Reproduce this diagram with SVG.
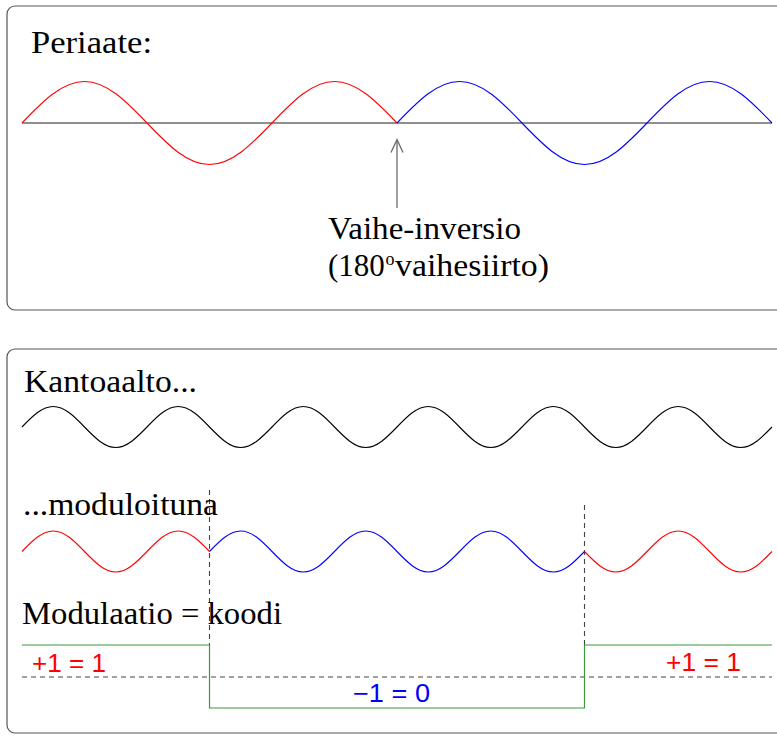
<svg xmlns="http://www.w3.org/2000/svg" width="777" height="736" viewBox="0 0 777 736">
<style>
.box{fill:none;stroke:#555;stroke-width:1.2}
.serif{font-family:"Liberation Serif","Times New Roman",serif;font-size:31px;fill:#000}
.sans{font-family:"Liberation Sans",Arial,sans-serif;font-size:25px}
.w{fill:none;stroke-width:1.1;stroke-linejoin:round}
.red{stroke:#ff0000}.blue{stroke:#0000ff}.blk{stroke:#000}
.dash{fill:none;stroke:#444;stroke-width:1.1;stroke-dasharray:5,4}
.axis{fill:none;stroke:#6a6a6a;stroke-width:1.3}
.code{fill:none;stroke:#3a9a3a;stroke-width:1.2}
</style>
<rect width="777" height="736" fill="#fff"/>
<g id="panel-top">
<rect class="box" x="7" y="6" width="800" height="304" rx="8"/>
<text class="serif" x="31" y="53" textLength="121" lengthAdjust="spacingAndGlyphs">Periaate:</text>
<path class="axis" d="M22,123H772"/>
<path class="w red" d="M22,123c20.38,-21.26 39.88,-41.5 62.5,-41.5c22.62,0 42.12,20.24 62.5,41.5c20.38,21.26 39.88,41.5 62.5,41.5c22.62,0 42.12,-20.24 62.5,-41.5c20.38,-21.26 39.88,-41.5 62.5,-41.5c22.62,0 42.12,20.24 62.5,41.5"/>
<path class="w blue" d="M397,123c20.38,-21.26 39.880,-41.5 62.5,-41.5c22.62,0 42.12,20.24 62.5,41.5c20.38,21.26 39.88,41.5 62.5,41.5c22.62,0 42.12,-20.24 62.5,-41.5c20.38,-21.26 39.88,-41.5 62.5,-41.5c22.62,0 42.12,20.24 62.5,41.5"/>
</g>
<g id="connectors">
<path class="axis" d="M397,208V140"/>
<path class="axis" d="M391,152.5L397,139.5L403,152.5"/>
<path class="dash" d="M209.5,490V645"/>
<path class="dash" d="M584.5,505V645"/>
</g>
<g id="label-inversion">
<text class="serif" x="328" y="239" textLength="193" lengthAdjust="spacingAndGlyphs">Vaihe-inversio</text>
<text class="serif" x="328" y="276">(180</text>
<text class="serif" x="385.5" y="265" style="font-size:18px">o</text>
<text class="serif" x="395" y="276" textLength="154" lengthAdjust="spacingAndGlyphs">vaihesiirto)</text>
</g>
<g id="panel-bottom">
<rect class="box" x="7" y="349" width="800" height="384" rx="8"/>
<text class="serif" x="24" y="392" textLength="173" lengthAdjust="spacingAndGlyphs">Kantoaalto...</text>
</g>
<g id="carrier">
<path class="w blk" d="M22,427c10.19,-10.5 19.94,-20.5 31.25,-20.5c11.31,0 21.06,10 31.25,20.5c10.19,10.5 19.94,20.5 31.25,20.5c11.31,0 21.06,-10 31.25,-20.5c10.19,-10.5 19.94,-20.5 31.25,-20.5c11.31,0 21.06,10 31.25,20.5c10.19,10.5 19.94,20.5 31.25,20.5c11.31,0 21.06,-10 31.25,-20.5c10.19,-10.5 19.94,-20.5 31.25,-20.5c11.31,0 21.06,10 31.25,20.5c10.19,10.5 19.94,20.5 31.25,20.5c11.31,0 21.06,-10 31.25,-20.5c10.19,-10.5 19.94,-20.5 31.25,-20.5c11.31,0 21.06,10 31.25,20.5c10.19,10.5 19.94,20.5 31.25,20.5c11.31,0 21.06,-10 31.25,-20.5c10.19,-10.5 19.94,-20.5 31.25,-20.5c11.31,0 21.06,10 31.25,20.5c10.19,10.5 19.94,20.5 31.25,20.5c11.31,0 21.06,-10 31.25,-20.5c10.19,-10.5 19.94,-20.5 31.25,-20.5c11.31,0 21.06,10 31.25,20.5c10.19,10.5 19.94,20.5 31.25,20.5c11.31,0 21.06,-10 31.25,-20.5"/>
</g>
<g id="modulated">
<text class="serif" x="23" y="515" textLength="195" lengthAdjust="spacingAndGlyphs">...moduloituna</text>
<path class="w red" d="M22,551.5c10.19,-10.5 19.94,-20.5 31.25,-20.5c11.31,0 21.06,10 31.25,20.5c10.19,10.5 19.94,20.5 31.25,20.5c11.31,0 21.06,-10 31.25,-20.5c10.19,-10.5 19.94,-20.5 31.25,-20.5c11.31,0 21.06,10 31.25,20.5"/>
<path class="w blue" d="M209.5,551.5c10.19,-10.5 19.94,-20.5 31.25,-20.5c11.31,0 21.06,10 31.25,20.5c10.19,10.5 19.94,20.5 31.25,20.5c11.31,0 21.06,-10 31.25,-20.5c10.19,-10.5 19.94,-20.5 31.25,-20.5c11.31,0 21.06,10 31.25,20.5c10.19,10.5 19.94,20.5 31.25,20.5c11.31,0 21.06,-10 31.25,-20.5c10.19,-10.5 19.94,-20.5 31.25,-20.5c11.31,0 21.06,10 31.25,20.5c10.19,10.5 19.94,20.5 31.25,20.5c11.31,0 21.06,-10 31.25,-20.5"/>
<path class="w red" d="M584.5,551.5c10.19,10.5 19.94,20.5 31.25,20.5c11.31,0 21.06,-10 31.25,-20.5c10.19,-10.5 19.94,-20.5 31.25,-20.5c11.31,0 21.06,10 31.25,20.5c10.19,10.5 19.94,20.5 31.25,20.5c11.31,0 21.06,-10 31.25,-20.5"/>
</g>
<g id="code">
<text class="serif" x="22" y="624" textLength="260" lengthAdjust="spacingAndGlyphs">Modulaatio = koodi</text>
<path class="dash" d="M22,677H772"/>
<path class="code" d="M22,645H209.5V708H584.5V645H772"/>
<text class="sans" x="32" y="672" fill="#ff0000" textLength="74" lengthAdjust="spacingAndGlyphs">+1 = 1</text>
<text class="sans" x="666" y="671" fill="#ff0000" textLength="75" lengthAdjust="spacingAndGlyphs">+1 = 1</text>
<text class="sans" x="353" y="701.5" fill="#0000ff" textLength="77" lengthAdjust="spacingAndGlyphs">−1 = 0</text>
</g>
</svg>
